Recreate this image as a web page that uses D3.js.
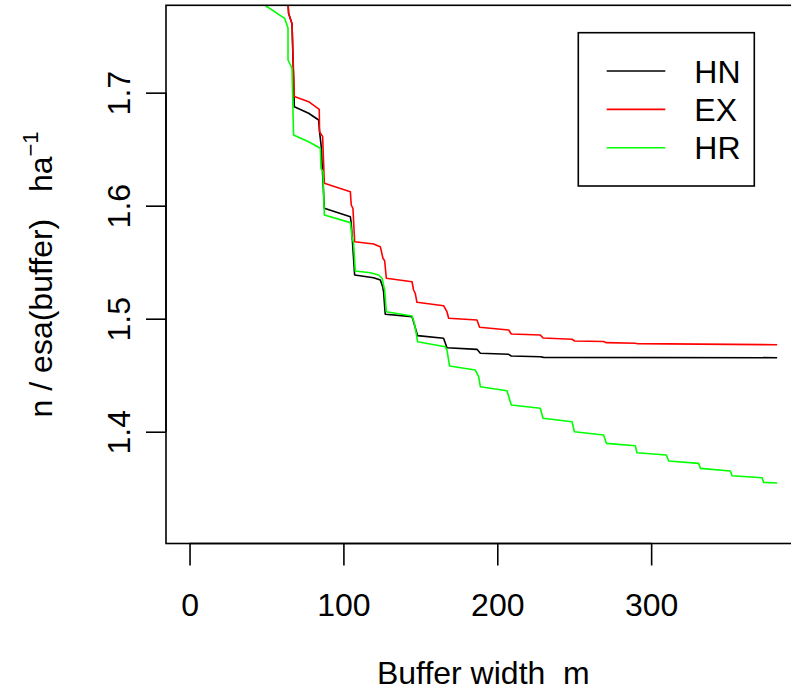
<!DOCTYPE html>
<html lang="en">
<head>
  <meta charset="UTF-8">
  <title>Buffer width</title>
  <script src="https://cdn.jsdelivr.net/npm/d3@7"></script>
  <style>
    html, body { margin: 0; padding: 0; background: #fff; }
    text { font-family: "Liberation Sans", Arial, Helvetica, sans-serif; }
  </style>
</head>
<body>
<div id="chart"></div>
<script>
// series (buffer width m, n / esa)
const hnX = [63.5, 64.4, 66.6, 68.1, 77.4, 83.9, 84.5, 85.6, 87.6, 104.5, 105.1, 107.3, 119.6, 124.0, 125.5, 126.1, 127.2, 144.6, 145.6, 148.2, 165.1, 167.3, 186.8, 189.0, 207.4, 209.1, 228.0, 230.1, 381.9];
const hnY = [1.791, 1.770, 1.761, 1.6876, 1.6818, 1.6758, 1.6655, 1.6522, 1.5977, 1.5903, 1.5844, 1.5387, 1.5363, 1.5342, 1.5283, 1.5239, 1.5039, 1.5018, 1.4973, 1.4850, 1.4827, 1.4743, 1.4729, 1.4694, 1.4685, 1.4670, 1.4664, 1.4658, 1.4655];

const exX = [63.5, 64.4, 66.6, 68.1, 77.4, 84.3, 84.5, 86.5, 87.6, 104.5, 105.1, 106.2, 107.3, 119.6, 124.0, 125.7, 126.8, 127.9, 144.6, 145.6, 146.7, 147.8, 165.1, 167.3, 168.4, 186.8, 188.5, 207.4, 209.1, 228.0, 229.7, 248.6, 250.3, 269.1, 270.9, 289.7, 291.2, 310.3, 381.9];
const exY = [1.791, 1.770, 1.761, 1.6965, 1.6920, 1.6853, 1.6655, 1.6611, 1.6198, 1.6124, 1.6006, 1.5977, 1.5681, 1.5661, 1.5637, 1.5535, 1.5513, 1.5358, 1.5327, 1.5254, 1.5225, 1.5145, 1.5115, 1.5062, 1.5004, 1.4988, 1.4924, 1.4900, 1.4865, 1.4856, 1.4829, 1.4818, 1.4803, 1.4798, 1.4788, 1.4783, 1.4779, 1.4777, 1.4770];

const hrX = [30.5, 48.8, 61.8, 64.0, 64.0, 66.6, 67.6, 77.4, 85.0, 85.4, 86.7, 87.6, 104.5, 105.6, 106.6, 107.7, 117.5, 122.9, 125.1, 126.8, 127.9, 144.6, 146.1, 147.4, 148.2, 166.2, 167.3, 169.0, 185.7, 187.9, 189.0, 206.3, 209.1, 228.0, 229.7, 248.6, 250.1, 269.1, 270.9, 289.7, 290.8, 309.9, 311.4, 330.9, 332.0, 351.5, 352.6, 372.1, 373.1, 381.9];
const hrY = [1.794, 1.7776, 1.7658, 1.7573, 1.7289, 1.7216, 1.6626, 1.6566, 1.6508, 1.6331, 1.6301, 1.5918, 1.5850, 1.5726, 1.5667, 1.5422, 1.5407, 1.5387, 1.5358, 1.5254, 1.5062, 1.5024, 1.4959, 1.4865, 1.4796, 1.4752, 1.4723, 1.4581, 1.4546, 1.4487, 1.4398, 1.4363, 1.4236, 1.4207, 1.4119, 1.4088, 1.4000, 1.3971, 1.3897, 1.3876, 1.3814, 1.3794, 1.3741, 1.3720, 1.3676, 1.3652, 1.3611, 1.3593, 1.3552, 1.3546];

const seriesNames = ['HN', 'EX', 'HR'];
const seriesColors = ['#000000', '#ff0000', '#00ff00'];
const xTicks = [0, 100, 200, 300];
const yTicks = [1.4, 1.5, 1.6, 1.7];

const W = 791, H = 692;
const fontSize = 32;

// plot box (right edge falls just outside the picture)
const box = { left: 166, right: 800.7, top: 5.3, bottom: 543.5 };

const x = d3.scaleLinear().domain([-15.3, 397.2]).range([box.left, box.right]);
const y = d3.scaleLinear().domain([1.3011, 1.7773]).range([box.bottom, box.top]);

const svg = d3.select('#chart').append('svg')
  .attr('width', W)
  .attr('height', H)
  .style('display', 'block')
  .style('background', '#fff');

svg.append('defs').append('clipPath')
  .attr('id', 'plot-clip')
  .append('rect')
  .attr('x', box.left)
  .attr('y', box.top)
  .attr('width', box.right - box.left)
  .attr('height', box.bottom - box.top);

const series = [
  { xs: hnX, ys: hnY },
  { xs: exX, ys: exY },
  { xs: hrX, ys: hrY }
];

const line = d3.line()
  .x(d => x(d[0]))
  .y(d => y(d[1]));

svg.append('g')
  .attr('clip-path', 'url(#plot-clip)')
  .selectAll('path')
  .data(series)
  .enter()
  .append('path')
  .attr('fill', 'none')
  .attr('stroke', (d, i) => seriesColors[i])
  .attr('stroke-width', 1.6)
  .attr('stroke-linejoin', 'round')
  .attr('d', d => line(d.xs.map((v, i) => [v, d.ys[i]])));

// box
svg.append('rect')
  .attr('x', box.left)
  .attr('y', box.top)
  .attr('width', box.right - box.left)
  .attr('height', box.bottom - box.top)
  .attr('fill', 'none')
  .attr('stroke', '#000')
  .attr('stroke-width', 1.6);

// x axis
const xAxis = d3.axisBottom(x).tickValues(xTicks).tickSizeOuter(0).tickSizeInner(22).tickPadding(0).tickFormat(d3.format('d'));
const gx = svg.append('g').attr('transform', `translate(0,${box.bottom})`).call(xAxis);
gx.select('.domain').attr('d', `M${x(xTicks[0])},0H${x(xTicks[xTicks.length - 1])}`).attr('stroke-width', 1.6);
gx.selectAll('.tick line').attr('stroke-width', 1.6);
gx.selectAll('.tick text')
  .attr('font-size', fontSize)
  .attr('font-family', '"Liberation Sans", Arial, sans-serif')
  .attr('fill', '#000')
  .attr('dy', null)
  .attr('y', 616 - box.bottom);

// y axis
const yAxis = d3.axisLeft(y).tickValues(yTicks).tickSizeOuter(0).tickSizeInner(20).tickFormat(d3.format('.1f'));
const gy = svg.append('g').attr('transform', `translate(${box.left},0)`).call(yAxis);
gy.select('.domain').attr('d', `M0,${y(yTicks[0])}V${y(yTicks[yTicks.length - 1])}`).attr('stroke-width', 1.6);
gy.selectAll('.tick line').attr('stroke-width', 1.6);
gy.selectAll('.tick text')
  .attr('font-size', fontSize)
  .attr('font-family', '"Liberation Sans", Arial, sans-serif')
  .attr('fill', '#000')
  .attr('x', null)
  .attr('dy', null)
  .attr('text-anchor', 'middle')
  .attr('transform', `translate(${130 - box.left},0) rotate(-90)`);

// axis titles
svg.append('text')
  .attr('x', (box.left + box.right) / 2)
  .attr('y', 684)
  .attr('text-anchor', 'middle')
  .attr('font-size', fontSize)
  .style('white-space', 'pre')
  .text('Buffer width  m');

const ylab = svg.append('text')
  .attr('transform', `translate(52,${(box.top + box.bottom) / 2}) rotate(-90)`)
  .attr('text-anchor', 'middle')
  .attr('font-size', fontSize)
  .style('white-space', 'pre');
ylab.append('tspan').text('n / esa(buffer)   ha');
ylab.append('tspan').attr('font-size', 22).attr('dy', -14).text('\u22121');

// legend
const legend = svg.append('g');
legend.append('rect')
  .attr('x', 578.3)
  .attr('y', 32.7)
  .attr('width', 176)
  .attr('height', 153.3)
  .attr('fill', '#fff')
  .attr('stroke', '#000')
  .attr('stroke-width', 1.6);

const ly = d3.scalePoint().domain(seriesNames).range([71, 147.7]);
const items = legend.selectAll('g.item')
  .data(seriesNames)
  .enter()
  .append('g')
  .attr('class', 'item')
  .attr('transform', d => `translate(0,${ly(d)})`);
items.append('line')
  .attr('x1', 606.7)
  .attr('x2', 665.3)
  .attr('stroke', (d, i) => seriesColors[i])
  .attr('stroke-width', 1.6);
items.append('text')
  .attr('x', 694.3)
  .attr('dy', '0.36em')
  .attr('font-size', fontSize)
  .text(d => d);
</script>
</body>
</html>
